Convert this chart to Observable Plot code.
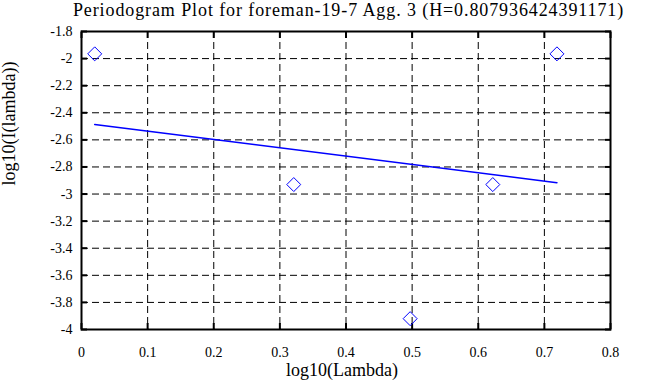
<!DOCTYPE html>
<html>
<head>
<meta charset="utf-8">
<script src="https://cdn.jsdelivr.net/npm/d3@7"></script>
<script src="https://cdn.jsdelivr.net/npm/@observablehq/plot@0.6"></script>
<style>
  html, body { margin: 0; padding: 0; background: #fff; }
  #wrap { position: relative; width: 663px; height: 387px; }
  #chart svg { display: block; }
  #chart svg text { font-family: "Liberation Serif" !important; font-variant: normal !important; }
  #title {
    position: absolute; left: 0; top: 1px; width: 697px; text-align: center;
    font-family: "Liberation Serif", serif; font-size: 18px; line-height: 18px;
    letter-spacing: 0.9px; color: #000; white-space: nowrap;
  }
</style>
</head>
<body>
<div id="wrap">
  <div id="chart"></div>
  <div id="title"></div>
</div>
<script>
const titleText = "Periodogram Plot for foreman-19-7 Agg. 3 (H=0.807936424391171)";
const xLabel = "log10(Lambda)";
const yLabel = "log10(I(lambda))";

// observed periodogram points
const logLambda = [0.020, 0.321, 0.497, 0.622, 0.719];
const logI = [-1.965, -2.93, -3.92, -2.93, -1.965];

// least-squares fit line endpoints
const fitX = [0.020, 0.719];
const fitY = [-2.486, -2.916];

const xTicks = [0, 0.1, 0.2, 0.3, 0.4, 0.5, 0.6, 0.7, 0.8];
const yTicks = [-1.8, -2, -2.2, -2.4, -2.6, -2.8, -3, -3.2, -3.4, -3.6, -3.8, -4];

const points = logLambda.map((x, i) => ({x, y: logI[i]}));
const fit = fitX.map((x, i) => ({x, y: fitY[i]}));
const fmt = d => String(+d.toFixed(1));
const serif = "Liberation Serif";

const chart = Plot.plot({
  width: 663,
  height: 387,
  marginTop: 31,
  marginLeft: 81,
  marginRight: 53,
  marginBottom: 58,
  style: "background:#fff;color:#000;font-family:'Liberation Serif';font-size:14px;",
  x: {domain: [0, 0.8], label: null},
  y: {domain: [-4, -1.8], label: null},
  marks: [
    Plot.gridX(xTicks, {stroke: "#000", strokeOpacity: 1, strokeDasharray: "7,4"}),
    Plot.gridY(yTicks, {stroke: "#000", strokeOpacity: 1, strokeDasharray: "7,4"}),
    Plot.axisX(xTicks, {anchor: "bottom", tickSize: -6, tickPadding: 24, tickFormat: fmt, strokeWidth: 2, fontSize: 14, label: null}),
    Plot.axisX(xTicks, {anchor: "top", tickSize: -6, text: null, strokeWidth: 2, label: null}),
    Plot.axisY(yTicks, {anchor: "left", tickSize: -6, tickPadding: 15, tickFormat: fmt, strokeWidth: 2, fontSize: 14, label: null}),
    Plot.axisY(yTicks, {anchor: "right", tickSize: -6, text: null, strokeWidth: 2, label: null}),
    Plot.frame({stroke: "#000", strokeWidth: 2}),
    Plot.line(fit, {x: "x", y: "y", stroke: "#0000ff", strokeWidth: 1.5}),
    Plot.dot(points, {x: "x", y: "y", symbol: "diamond2", r: 6.3, stroke: "#0000ff", strokeWidth: 1, fill: "none"}),
    Plot.text([xLabel], {frameAnchor: "bottom", dy: 46, dx: -4, text: d => d, fontSize: 18, fontFamily: serif}),
    Plot.text([yLabel], {frameAnchor: "left", dx: -72, dy: 5, rotate: -90, text: d => d, fontSize: 18, fontFamily: serif})
  ]
});
document.getElementById("chart").appendChild(chart);
document.getElementById("title").textContent = titleText;
</script>
</body>
</html>
